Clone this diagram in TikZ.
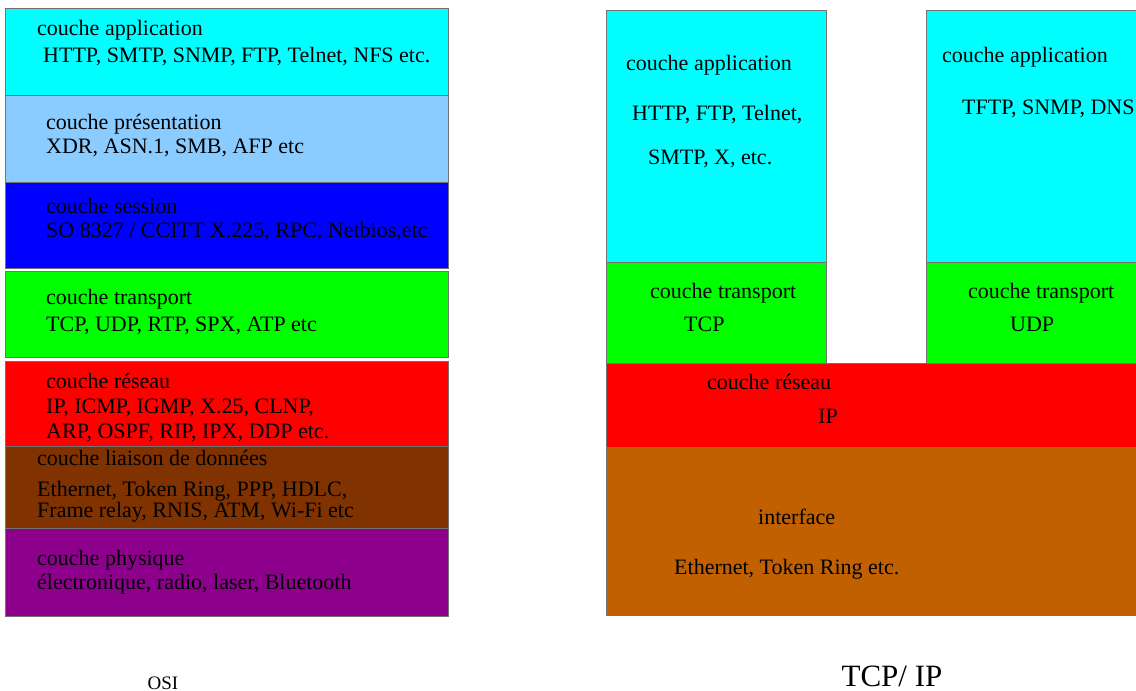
\documentclass[tikz,border=0pt]{standalone}
\usepackage{fontspec}
\setmainfont{Liberation Serif}
\usetikzlibrary{positioning}
\definecolor{appcol}{RGB}{0,255,255}
\definecolor{prescol}{RGB}{138,204,255}
\definecolor{sesscol}{RGB}{0,0,255}
\definecolor{transcol}{RGB}{0,255,0}
\definecolor{rescol}{RGB}{255,0,0}
\definecolor{liaicol}{RGB}{128,50,0}
\definecolor{physcol}{RGB}{140,0,140}
\definecolor{intercol}{RGB}{192,96,0}
\tikzstyle{layer} = [rectangle, draw=black!55, line width=1pt, inner sep=0pt,
                     anchor=north west]
\tikzstyle{txt} = [anchor=base west, inner sep=0pt,
                   font=\fontsize{22}{27}\selectfont]
\tikzstyle{caption} = [anchor=base, inner sep=0pt]

\begin{document}
\begin{tikzpicture}[x=1pt, y=-1pt]
  \clip (0,0) rectangle (1136,691);
  \fill [white] (0,0) rectangle (1136,691);
  % OSI stack
  \node [layer, fill=appcol, minimum width=443pt, minimum height=87pt] (app) at (5,8) {};
  \node [layer, fill=prescol, minimum width=443pt, minimum height=87pt] (pres) at (5,95) {};
  \node [layer, fill=sesscol, minimum width=443pt, minimum height=86pt] (sess) at (5,182) {};
  \node [layer, fill=transcol, minimum width=443pt, minimum height=86pt] (trans) at (5,271) {};
  \node [layer, fill=rescol, minimum width=443pt, minimum height=85pt] (res) at (5,361) {};
  \node [layer, fill=liaicol, minimum width=443pt, minimum height=82pt] (liai) at (5,446) {};
  \node [layer, fill=physcol, minimum width=443pt, minimum height=88pt] (phys) at (5,528) {};

  \node [txt] (appname) at (37,35) {couche application};
  \node [txt, below=27pt of appname.base west, anchor=base west, xshift=6pt] (appprot) {HTTP, SMTP, SNMP, FTP, Telnet, NFS etc.};
  \node [txt] (presname) at (46,129) {couche présentation};
  \node [txt, below=24pt of presname.base west, anchor=base west] (presprot) {XDR, ASN.1, SMB, AFP etc};
  \node [txt] (sessname) at (46,213) {couche session};
  \node [txt, below=24pt of sessname.base west, anchor=base west] (sessprot) {SO 8327 / CCITT X.225, RPC, Netbios,etc};
  \node [txt] (transname) at (46,304) {couche transport};
  \node [txt, below=27pt of transname.base west, anchor=base west] (transprot) {TCP, UDP, RTP, SPX, ATP etc};
  \node [txt] (resname) at (46,388) {couche réseau};
  \node [txt, below=25pt of resname.base west, anchor=base west] (resprot) {IP, ICMP, IGMP, X.25, CLNP,};
  \node [txt, below=25pt of resprot.base west, anchor=base west] (resprotb) {ARP, OSPF, RIP, IPX, DDP etc.};
  \node [txt] (liainame) at (37,465) {couche liaison de données};
  \node [txt, below=31pt of liainame.base west, anchor=base west] (liaiprot) {Ethernet, Token Ring, PPP, HDLC,};
  \node [txt, below=21pt of liaiprot.base west, anchor=base west] (liaiprotb) {Frame relay, RNIS, ATM, Wi{-}Fi etc};
  \node [txt] (physname) at (37,565) {couche physique};
  \node [txt, below=24pt of physname.base west, anchor=base west] (physprot) {électronique, radio, laser, Bluetooth};

  % TCP/IP stack
  \node [layer, fill=appcol, minimum width=220pt, minimum height=252pt] (tcpapp) at (606,10) {};
  \node [layer, fill=transcol, minimum width=220pt, minimum height=101pt] (tcptrans) at (606,262) {};
  \node [layer, fill=appcol, minimum width=230pt, minimum height=252pt] (udpapp) at (926,10) {};
  \node [layer, fill=transcol, minimum width=230pt, minimum height=101pt] (udptrans) at (926,262) {};
  \node [layer, fill=rescol, minimum width=550pt, minimum height=84pt] (ipres) at (606,363) {};
  \node [layer, fill=intercol, minimum width=550pt, minimum height=168pt] (iface) at (606,447) {};

  \node [txt] (tcpappname) at (626,70) {couche application};
  \node [txt] (tcpappprot) at (632,120) {HTTP, FTP, Telnet,};
  \node [txt] (tcpappprotb) at (648,164) {SMTP, X, etc.};
  \node [txt] (udpappname) at (942,62) {couche application};
  \node [txt] (udpappprot) at (962,114) {TFTP, SNMP, DNS};
  \node [txt] (tcptransname) at (650,298) {couche transport};
  \node [txt] (tcptransprot) at (684,331) {TCP};
  \node [txt] (udptransname) at (968,298) {couche transport};
  \node [txt] (udptransprot) at (1010,331) {UDP};
  \node [txt] (ipresname) at (707,389) {couche réseau};
  \node [txt] (ipresprot) at (818,423) {IP};
  \node [txt] (ifacename) at (758,524) {interface};
  \node [txt] (ifaceprot) at (674,574) {Ethernet, Token Ring etc.};

  % captions
  \node [caption, font=\fontsize{19}{22}\selectfont] (osi) at (163,689) {OSI};
  \node [caption, font=\fontsize{31}{36}\selectfont] (tcpip) at (892,686) {TCP/ IP};
\end{tikzpicture}
\end{document}
